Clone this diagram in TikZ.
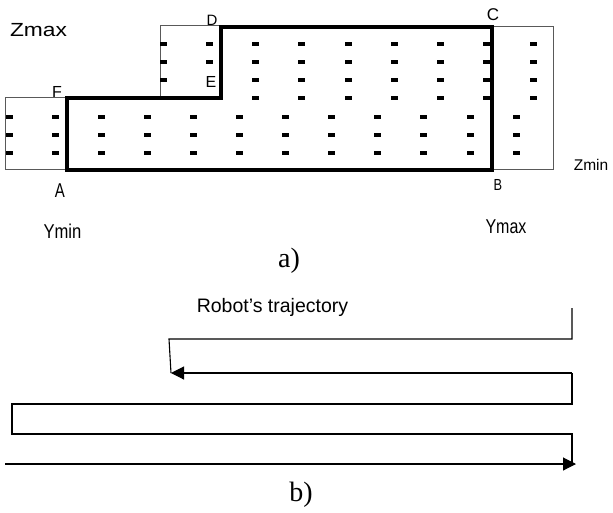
\documentclass[tikz,border=0pt]{standalone}
\usepackage{fontspec}
\usepackage{graphicx}
\setmainfont{Liberation Sans}
\newfontfamily\serifkind{Liberation Serif}
\usetikzlibrary{arrows.meta}
\newcommand{\fsz}[1]{\fontsize{#1}{#1}\selectfont}
\tikzset{
  lab/.style={inner sep=0pt, anchor=base},
  thinbox/.style={draw=black!65, line width=0.9pt},
  thickline/.style={draw=black, line width=4pt, line join=miter},
  traj/.style={draw=black, line width=1.1pt},
  tip/.style={-{Triangle[length=13pt,width=13pt]}},
  dashmark/.style={fill=black}
}
\begin{document}
\begin{tikzpicture}[x=1pt,y=-1pt]
\useasboundingbox (0,0) rectangle (613,512);
% thin outline boxes
\draw[thinbox] (5,97) rectangle (67,169);
\draw[thinbox] (160,25) rectangle (221,98);
\draw[thinbox] (492,26) rectangle (553,169);
% dashes lower band
\foreach \i in {0,...,11}
  \foreach \y in {117,135,153}
    \fill[dashmark] ({9+46.1*\i-3.5},{\y-1.75}) rectangle ++(7,3.5);
% dashes upper band
\foreach \i in {0,2,3,...,8}
  \foreach \y in {44,62,80}
    \fill[dashmark] ({163+46.25*\i-3.5},{\y-1.75}) rectangle ++(7,3.5);
\foreach \y in {44,62}
  \fill[dashmark] ({163+46.25-3.5},{\y-1.75}) rectangle ++(7,3.5);
\foreach \i in {2,...,8}
  \fill[dashmark] ({163+46.25*\i-3.5},{98-1.75}) rectangle ++(7,3.5);
% thick contour
\coordinate (A) at (67,170);
\coordinate (F) at (67,98);
\coordinate (E) at (221,98);
\coordinate (D) at (221,27);
\coordinate (C) at (492,27);
\coordinate (B) at (492,170);
\draw[thickline] (A) -- (F) -- (E) -- (D) -- (C) -- (B) -- cycle;
% labels part a
\node[lab, font=\fsz{19}] (zmax) at (38.5,36) {\scalebox{1.2}[1]{Zmax}};
\node[lab, font=\fsz{15}] (lD) at (212,25) {D};
\node[lab, font=\fsz{17}] (lC) at (493,20) {C};
\node[lab, font=\fsz{16}] (lF) at (57,97) {F};
\node[lab, font=\fsz{16}] (lE) at (211,87) {E};
\node[lab, font=\fsz{20}] (lA) at (60,197) {\scalebox{0.75}[1]{A}};
\node[lab, font=\fsz{16}] (lB) at (498,190) {\scalebox{0.8}[1]{B}};
\node[lab, font=\fsz{20}] (ymin) at (62.5,238) {\scalebox{0.83}[1]{Ymin}};
\node[lab, font=\fsz{20}] (ymax) at (506,233) {\scalebox{0.8}[1]{Ymax}};
\node[lab, font=\fsz{15.5}] (zmin) at (591,170) {Zmin};
\node[lab, font=\serifkind\fsz{28}] (capa) at (289,267) {a)};
% part b
\node[lab, font=\fsz{19.5}] (robot) at (272.5,312) {Robot's trajectory};
\coordinate (t0) at (572,308);
\coordinate (t1) at (572,339);
\coordinate (t2) at (169,339);
\coordinate (t3) at (171,373);
\coordinate (r0) at (572,373);
\coordinate (r1) at (572,404);
\coordinate (r2) at (12,404);
\coordinate (r3) at (12,434);
\coordinate (r4) at (572,434);
\coordinate (r5) at (572,464);
\coordinate (s0) at (5,464);
\coordinate (s1) at (576,464);
\draw[traj] (t0) -- (t1) -- (t2) -- (t3);
\draw[traj, tip] (r0) -- (t3);
\draw[traj] (r0) -- (r1) -- (r2) -- (r3) -- (r4) -- (r5);
\draw[traj, tip] (s0) -- (s1);
\node[lab, font=\serifkind\fsz{28}] (capb) at (301,501) {b)};
\end{tikzpicture}
\end{document}
